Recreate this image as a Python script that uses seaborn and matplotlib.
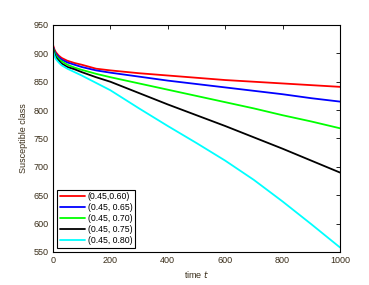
import numpy as np
import pandas as pd
import matplotlib
matplotlib.use("Agg")
import matplotlib.pyplot as plt
import seaborn as sns

# time points and susceptible class values
t = [0, 5, 10, 20, 30, 50, 75, 100, 150, 200, 300, 400, 500, 600, 700, 800, 900, 1000]

s_060 = [915, 907, 902, 896, 892, 887, 883, 880, 873, 870, 865, 861, 857, 853, 850, 847, 844, 841]
s_065 = [912, 904, 899, 893, 889, 884, 880, 876, 870, 866, 859, 852, 846, 840, 834, 828, 821, 815]
s_070 = [910, 902, 896, 890, 886, 880, 875, 871, 864, 858, 847, 836, 825, 814, 803, 791, 780, 768]
s_075 = [908, 899, 893, 887, 882, 876, 872, 867, 858, 850, 830, 810, 791, 772, 752, 732, 711, 690]
s_080 = [905, 896, 890, 884, 879, 873, 867, 861, 848, 835, 803, 772, 742, 711, 677, 639, 599, 558]

labels = ["(0.45,0.60)", "(0.45, 0.65)", "(0.45, 0.70)", "(0.45, 0.75)", "(0.45, 0.80)"]
colors = ["#ff0000", "#0000ff", "#00ff00", "#000000", "#00ffff"]

frames = []
for lab, vals in zip(labels, [s_060, s_065, s_070, s_075, s_080]):
    frames.append(pd.DataFrame({"t": t, "S": vals, "case": lab}))
df = pd.concat(frames, ignore_index=True)

sns.set_style("white")
plt.rcParams['font.family'] = ['Liberation Sans', 'DejaVu Sans']
txt = "#3a2e1a"

fig = plt.figure(figsize=(3.69, 2.85), dpi=100)
ax = fig.add_axes([0.1436, 0.1158, 0.7778, 0.7965])

sns.lineplot(data=df, x="t", y="S", hue="case", palette=colors,
             linewidth=1.3, ax=ax, sort=False, estimator=None)

ax.set_xlim(0, 1000)
ax.set_ylim(550, 950)
ax.set_xticks(np.arange(0, 1001, 200))
ax.set_yticks(np.arange(550, 951, 50))
ax.tick_params(direction="in", length=3, width=0.6, labelsize=6.5,
               top=True, right=True, colors="black", labelcolor=txt, pad=3)
for sp in ax.spines.values():
    sp.set_color("black")
    sp.set_linewidth(0.8)

ax.set_xlabel("time $t$", fontsize=6.5, color=txt, labelpad=3)
ax.set_ylabel("Susceptible class", fontsize=6.5, color=txt, labelpad=4)

leg = ax.legend(loc="lower left", fontsize=6.3, frameon=True, fancybox=False,
                edgecolor="black", framealpha=1, handlelength=2.9,
                handletextpad=0.25, labelspacing=0.22, borderpad=0.3,
                borderaxespad=0.5)
leg.get_frame().set_linewidth(0.8)
for tx in leg.get_texts():
    tx.set_color("black")

fig.savefig("out.png", dpi=100)
